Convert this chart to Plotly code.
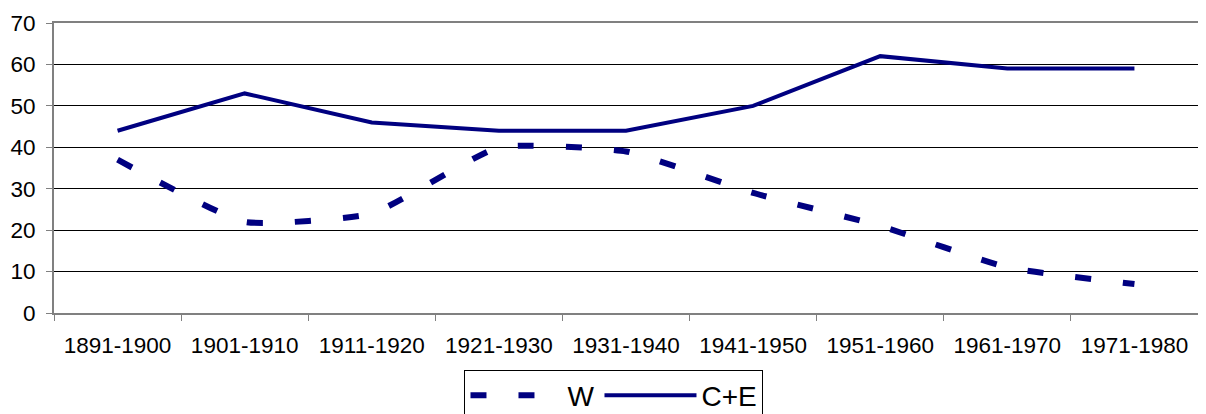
import plotly.graph_objects as go

categories = ["1891-1900", "1901-1910", "1911-1920", "1921-1930", "1931-1940",
              "1941-1950", "1951-1960", "1961-1970", "1971-1980"]
w_values = [37, 22, 24, 40, 39, 29, 21, 11, 7]
ce_values = [44, 53, 46, 44, 44, 50, 62, 59, 59]
y_ticks = [0, 10, 20, 30, 40, 50, 60, 70]

navy = "#000080"
font = dict(family="Liberation Sans, Arial, sans-serif", size=22.5, color="#000000")

fig = go.Figure()
fig.add_trace(go.Scatter(x=categories, y=w_values, name="W", mode="lines",
                         line=dict(color=navy, width=6, dash="16px,32px", shape="spline", smoothing=0.45)))
fig.add_trace(go.Scatter(x=categories, y=ce_values, name="C+E", mode="lines",
                         line=dict(color=navy, width=4)))

fig.update_layout(
    width=1206, height=414,
    margin=dict(l=46, r=16, t=15, b=109, autoexpand=False),
    paper_bgcolor="white", plot_bgcolor="white",
    font=font,
    showlegend=True,
    legend=dict(orientation="h", x=0.4895, xanchor="center", y=-0.195, yanchor="top",
                bordercolor="#000000", borderwidth=1, font=dict(size=28),
                itemwidth=92, traceorder="normal"),
)
fig.update_xaxes(type="category", showgrid=False, showline=True, linecolor="#808080", linewidth=2,
                 mirror=True, ticks="outside", ticklen=6, tickcolor="#808080", tickwidth=1,
                 tickson="boundaries", range=[-0.5, 8.5], ticklabelstandoff=11, automargin=False)
fig.update_yaxes(range=[0, 70], tickvals=y_ticks, showgrid=True, gridcolor="#000000", gridwidth=1,
                 showline=True, linecolor="#808080", linewidth=2, mirror=True,
                 ticks="outside", ticklen=6, tickcolor="#808080", ticklabelstandoff=6,
                 zeroline=False, automargin=False)

fig.write_html("out.html")
